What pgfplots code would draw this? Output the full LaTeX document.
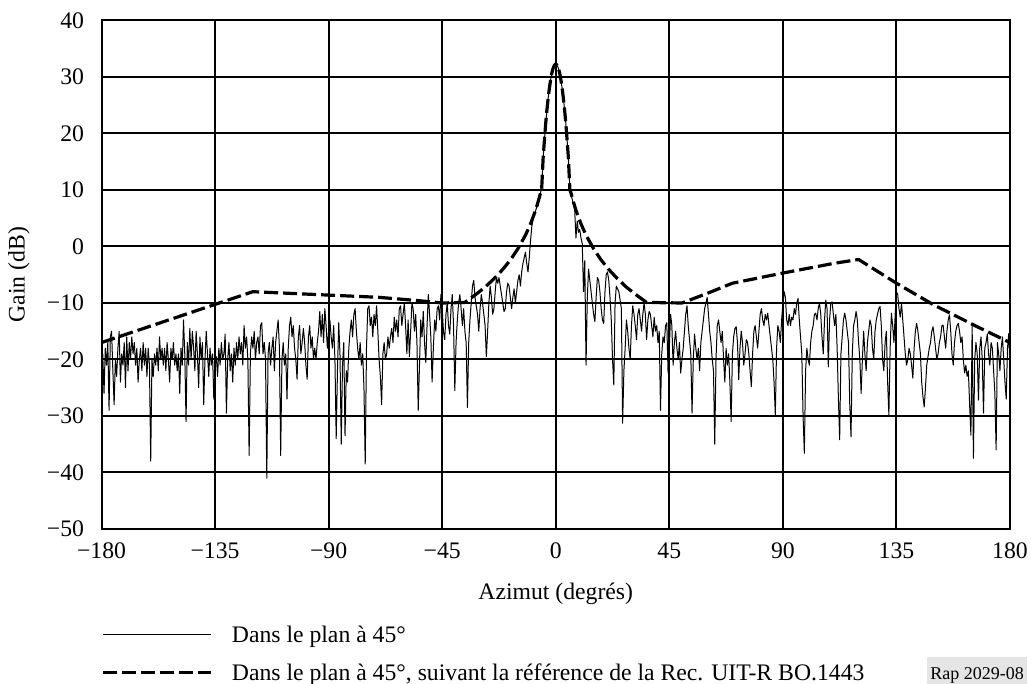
\documentclass[border=0pt]{standalone}
\usepackage{fontspec}
\setmainfont{Liberation Serif}
\usepackage{pgfplots}
\pgfplotsset{compat=1.18}
\begin{document}
\begin{tikzpicture}[x=1bp,y=1bp,font=\fontsize{23.7bp}{28bp}\selectfont]
\path[use as bounding box] (0,0) rectangle (1031,684);
\begin{axis}[
 at={(101.5bp,155bp)}, anchor=south west,
 scale only axis, width=908.5bp, height=508.5bp,
 xmin=-180,xmax=180,ymin=-50,ymax=40,
 xtick={-180,-135,-90,-45,0,45,90,135,180},
 ytick={-50,-40,-30,-20,-10,0,10,20,30,40},
 xticklabels={−180,−135,−90,−45,0,45,90,135,180},
 yticklabels={−50,−40,−30,−20,−10,0,10,20,30,40},
 grid=major, major grid style={black, line width=2bp},
 axis line style={black, line width=2bp},
 major tick length=0pt, tick style={draw=none},
 xticklabel style={yshift=-10bp},
 yticklabel style={xshift=-14bp},
 xlabel={Azimut (degrés)}, ylabel={Gain (dB)},
 xlabel style={at={(axis description cs:0.5,-0.127)}, anchor=center},
 ylabel style={at={(axis description cs:-0.091,0.5)}, anchor=center},
 legend style={at={(axis description cs:0,-0.186)}, anchor=north west, draw=none, fill=none, row sep=16bp, inner sep=0pt},
 legend cell align=left,
 legend image code/.code={\draw[#1] (0bp,0bp) -- (108bp,0bp); \path (125bp,0bp);},
]
\addplot[black, line width=1bp, line join=round] coordinates {
(-180,-24)(-179.5,-19)(-179,-26)(-178.5,-18)(-178,-21)(-177.5,-17)(-177,-29)(-176.5,-16)(-176,-15)(-175.5,-22)
(-175,-28)(-174.5,-20)(-174,-23)(-173.5,-18)(-173,-15)(-172.5,-24)(-172,-19)(-171.5,-21)(-171,-17)(-170.5,-25)
(-170,-16)(-169.5,-22)(-169,-17)(-168.5,-20)(-168,-16)(-167.5,-19)(-167,-17)(-166.5,-21)(-166,-18)(-165.5,-24)
(-165,-20)(-164.5,-18)(-164,-22)(-163.5,-17)(-163,-21)(-162.5,-18)(-162,-23)(-161.5,-18)(-161,-21)(-160.5,-38)
(-160,-20)(-159.5,-23)(-159,-19)(-158.5,-21)(-158,-18)(-157.5,-22)(-157,-16)(-156.5,-20)(-156,-18)(-155.5,-21)
(-155,-18)(-154.5,-22)(-154,-17)(-153.5,-20)(-153,-24)(-152.5,-18)(-152,-20)(-151.5,-17)(-151,-21)(-150.5,-19)
(-150,-22)(-149.5,-19)(-149,-26)(-148.5,-18)(-148,-21)(-147.5,-13)(-147,-19)(-146.5,-31)(-146,-17)(-145.5,-21)
(-145,-14.5)(-144.5,-20)(-144,-15)(-143.5,-18)(-143,-22)(-142.5,-15)(-142,-19)(-141.5,-25)(-141,-16)(-140.5,-20)
(-140,-17)(-139.5,-28)(-139,-20)(-138.5,-15)(-138,-19)(-137.5,-23)(-137,-18)(-136.5,-21)(-136,-19)(-135.5,-27)
(-135,-21)(-134.5,-19.5)(-134,-23)(-133.5,-18)(-133,-21)(-132.5,-17)(-132,-20)(-131.5,-19)(-131,-15.5)(-130.5,-29.5)
(-130,-20)(-129.5,-17)(-129,-22)(-128.5,-19)(-128,-24)(-127.5,-18)(-127,-21)(-126.5,-17)(-126,-20)(-125.5,-16)
(-125,-19)(-124.5,-17)(-124,-21)(-123.5,-14)(-123,-18)(-122.5,-16)(-122,-20)(-121.5,-37)(-121,-19)(-120.5,-16)
(-120,-18)(-119.5,-15)(-119,-20)(-118.5,-17)(-118,-16)(-117.5,-19)(-117,-14)(-116.5,-13.5)(-116,-19)(-115.5,-17)
(-115,-20)(-114.5,-41)(-114,-19)(-113.5,-17)(-113,-21)(-112.5,-18)(-112,-16)(-111.5,-22)(-111,-17)(-110.5,-15)
(-110,-13)(-109.5,-18)(-109,-37)(-108.5,-20)(-108,-17)(-107.5,-21)(-107,-19)(-106.5,-27)(-106,-18)(-105.5,-14)
(-105,-12.5)(-104.5,-16)(-104,-14)(-103.5,-18)(-103,-20)(-102.5,-23.5)(-102,-16)(-101.5,-14)(-101,-19)(-100.5,-17)
(-100,-14.5)(-99.5,-17)(-99,-21)(-98.5,-23.5)(-98,-16)(-97.5,-14)(-97,-18)(-96.5,-16)(-96,-20)(-95.5,-18)
(-95,-20)(-94.5,-17)(-94,-15)(-93.5,-11.5)(-93,-16)(-92.5,-12)(-92,-17)(-91.5,-11)(-91,-14)(-90.5,-18)
(-90,-15)(-89.5,-13)(-89,-16)(-88.5,-18)(-88,-14)(-87.5,-20)(-87,-34)(-86.5,-22)(-86,-13.5)(-85.5,-19)
(-85,-35)(-84.5,-21)(-84,-17)(-83.5,-33.5)(-83,-22)(-82.5,-24)(-82,-18)(-81.5,-15)(-81,-13)(-80.5,-16)
(-80,-12)(-79.5,-11)(-79,-15)(-78.5,-18)(-78,-20)(-77.5,-17)(-77,-21)(-76.5,-19)(-76,-25)(-75.5,-38.5)
(-75,-18)(-74.5,-11)(-74,-10.5)(-73.5,-14)(-73,-12.5)(-72.5,-16)(-72,-12)(-71.5,-14)(-71,-10.5)(-70.5,-15)
(-70,-20)(-69.5,-23)(-69,-28)(-68.5,-19)(-68,-17)(-67.5,-20)(-67,-19)(-66.5,-16)(-66,-18)(-65.5,-16)
(-65,-14.5)(-64.5,-17)(-64,-12.5)(-63.5,-15)(-63,-13)(-62.5,-16)(-62,-11)(-61.5,-10.5)(-61,-14)(-60.5,-12)
(-60,-10)(-59.5,-14)(-59,-19)(-58.5,-13)(-58,-19.5)(-57.5,-15)(-57,-10)(-56.5,-11)(-56,-15)(-55.5,-12)
(-55,-17)(-54.5,-29)(-54,-21)(-53.5,-13)(-53,-16)(-52.5,-11.5)(-52,-17)(-51.5,-20.5)(-51,-14)(-50.5,-8.5)
(-50,-12)(-49.5,-16)(-49,-24)(-48.5,-18)(-48,-13)(-47.5,-15)(-47,-11)(-46.5,-10.5)(-46,-13)(-45.5,-8.5)
(-45,-11)(-44.5,-15)(-44,-16.5)(-43.5,-12)(-43,-10)(-42.5,-14)(-42,-15.5)(-41.5,-11)(-41,-8.5)(-40.5,-14)
(-40,-25.5)(-39.5,-17)(-39,-13)(-38.5,-10)(-38,-8.5)(-37.5,-11)(-37,-14)(-36.5,-11)(-36,-15)(-35.5,-17)
(-35,-28.5)(-34.5,-17)(-34,-13)(-33.5,-10)(-33,-7)(-32.5,-6)(-32,-9)(-31.5,-10.5)(-31,-12)(-30.5,-15)
(-30,-11)(-29.5,-8.5)(-29,-10)(-28.5,-12)(-28,-14)(-27.5,-19.5)(-27,-15)(-26.5,-10)(-26,-7)(-25.5,-9)
(-25,-12)(-24.5,-11)(-24,-8)(-23.5,-5.5)(-23,-6.5)(-22.5,-5.5)(-22,-7)(-21.5,-8.5)(-21,-10)(-20.5,-11.5)
(-20,-11)(-19.5,-8)(-19,-6.5)(-18.5,-7)(-18,-9)(-17.5,-11)(-17,-9)(-16.5,-7.5)(-16,-10)(-15.5,-8)
(-15,-6)(-14.5,-5)(-14,-7)(-13.5,-4.5)(-13,-3)(-12.5,-2)(-12,-1)(-11.5,-3)(-11,-4.5)(-10.5,-2)
(-10,1)(-9.5,3.5)(-9,4.8)(-8.5,5.6)(-8,6.3)(-7.5,7)(-7,7.8)(-6.5,8.6)(-6,9.5)(-5.5,11)
(-5,15.7)(-4.5,18.8)(-4,21.7)(-3.5,24.2)(-3,26.3)(-2.5,28.1)(-2,29.6)(-1.5,30.8)(-1,31.6)(-0.5,32.1)
(0,32.3)(0.5,32.1)(1,31.6)(1.5,30.8)(2,29.6)(2.5,28.1)(3,26.3)(3.5,24.2)(4,21.7)(4.5,18.8)
(5,15.7)(5.5,11)(6,9.3)(6.5,8.4)(7,7.5)(7.5,6.5)(8,1.5)(8.5,4.5)(9,2.5)(9.5,3)
(10,1.5)(10.5,0.5)(11,-8)(11.5,-2.5)(12,-21)(12.5,-9)(13,-4)(13.5,-6)(14,-8)(14.5,-10)
(15,-12)(15.5,-13.3)(16,-9)(16.5,-5.5)(17,-6)(17.5,-8)(18,-11)(18.5,-13)(19,-13.6)(19.5,-8)
(20,-5)(20.5,-4.5)(21,-6)(21.5,-9)(22,-13)(22.5,-20)(23,-24.5)(23.5,-10)(24,-7)(24.5,-7.5)
(25,-8)(25.5,-9.5)(26,-11)(26.5,-31.3)(27,-22)(27.5,-18)(28,-13)(28.5,-15)(29,-18)(29.5,-20)
(30,-14)(30.5,-10.5)(31,-12)(31.5,-14)(32,-16.5)(32.5,-12)(33,-11)(33.5,-13)(34,-15)(34.5,-12)
(35,-10)(35.5,-12)(36,-16.5)(36.5,-13)(37,-11.5)(37.5,-12)(38,-14)(38.5,-16)(39,-12.5)(39.5,-15)
(40,-14)(40.5,-17)(41,-15)(41.5,-29)(42,-19)(42.5,-16)(43,-17)(43.5,-14)(44,-13.5)(44.5,-22.4)
(45,-18)(45.5,-12)(46,-14)(46.5,-21)(47,-17)(47.5,-15)(48,-18)(48.5,-20)(49,-17)(49.5,-22.4)
(50,-20)(50.5,-18)(51,-15)(51.5,-12)(52,-10.5)(52.5,-14)(53,-16.5)(53.5,-19)(54,-29.5)(54.5,-20)
(55,-15.5)(55.5,-18)(56,-20)(56.5,-18)(57,-22)(57.5,-17)(58,-15)(58.5,-13)(59,-11)(59.5,-10)
(60,-9)(60.5,-12)(61,-15)(61.5,-17)(62,-20)(62.5,-22)(63,-35)(63.5,-20)(64,-14)(64.5,-13)
(65,-15)(65.5,-17)(66,-15)(66.5,-20)(67,-24)(67.5,-18)(68,-21)(68.5,-19)(69,-24)(69.5,-31)
(70,-19)(70.5,-16)(71,-14.5)(71.5,-14.2)(72,-17)(72.5,-23.6)(73,-18)(73.5,-15)(74,-17)(74.5,-21)
(75,-19)(75.5,-16.5)(76,-17)(76.5,-19)(77,-22)(77.5,-24.8)(78,-19)(78.5,-15)(79,-14)(79.5,-16)
(80,-18)(80.5,-15)(81,-12)(81.5,-11)(82,-13)(82.5,-14)(83,-12)(83.5,-13)(84,-11.8)(84.5,-14)
(85,-16)(85.5,-18)(86,-20)(86.5,-24)(87,-29.8)(87.5,-18)(88,-14)(88.5,-15)(89,-17)(89.5,-13)
(90,-10)(90.5,-8)(91,-9)(91.5,-13)(92,-14)(92.5,-12)(93,-14)(93.5,-12.5)(94,-13)(94.5,-11)
(95,-12)(95.5,-10)(96,-9.2)(96.5,-13)(97,-16)(97.5,-19)(98,-30)(98.5,-36.6)(99,-22)(99.5,-18)
(100,-20)(100.5,-21)(101,-17)(101.5,-15)(102,-14)(102.5,-12)(103,-11.8)(103.5,-13)(104,-11)(104.5,-10)
(105,-12)(105.5,-16)(106,-19)(106.5,-13)(107,-9.5)(107.5,-11)(108,-21.3)(108.5,-13)(109,-10)(109.5,-9.8)
(110,-12)(110.5,-14)(111,-12)(111.5,-18)(112,-27)(112.5,-34.2)(113,-19)(113.5,-16)(114,-13)(114.5,-11.8)
(115,-13)(115.5,-15)(116,-17)(116.5,-28)(117,-33.7)(117.5,-19)(118,-14)(118.5,-13)(119,-11.5)(119.5,-13)
(120,-17)(120.5,-20)(121,-26)(121.5,-20)(122,-15)(122.5,-19)(123,-22)(123.5,-17)(124,-15)(124.5,-13)
(125,-14)(125.5,-18)(126,-20)(126.5,-15)(127,-13)(127.5,-12)(128,-11)(128.5,-10.6)(129,-14)(129.5,-20)
(130,-22)(130.5,-17)(131,-15)(131.5,-24)(132,-29.8)(132.5,-18)(133,-11.8)(133.5,-14)(134,-17)(134.5,-12)
(135,-8)(135.5,-8.5)(136,-11)(136.5,-12.5)(137,-10)(137.5,-13)(138,-16)(138.5,-19)(139,-21)(139.5,-20)
(140,-18)(140.5,-19)(141,-21)(141.5,-23.3)(142,-18)(142.5,-15)(143,-13.6)(143.5,-15)(144,-17)(144.5,-19)
(145,-24)(145.5,-26.6)(146,-28.4)(146.5,-25)(147,-21)(147.5,-19.5)(148,-18)(148.5,-17)(149,-15)(149.5,-14.2)
(150,-16)(150.5,-18)(151,-20)(151.5,-19)(152,-17)(152.5,-16)(153,-14)(153.5,-13.9)(154,-16)(154.5,-18)
(155,-15)(155.5,-13)(156,-12.1)(156.5,-15)(157,-19)(157.5,-21)(158,-17)(158.5,-15)(159,-14)(159.5,-13.6)
(160,-15)(160.5,-17)(161,-16)(161.5,-20)(162,-22.4)(162.5,-21)(163,-23)(163.5,-22)(164,-28)(164.5,-33.4)
(165,-14)(165.5,-37.5)(166,-20)(166.5,-17)(167,-19)(167.5,-27.2)(168,-18)(168.5,-16)(169,-20)(169.5,-29.5)
(170,-18)(170.5,-17)(171,-15.5)(171.5,-19)(172,-21)(172.5,-17)(173,-18)(173.5,-22)(174,-26)(174.5,-36)
(175,-17)(175.5,-19)(176,-22)(176.5,-18)(177,-16)(177.5,-20)(178,-24)(178.5,-27)(179,-18)(179.5,-15.4)
(180,-22)
};
\addlegendentry{Dans le plan à 45°}
\addplot[black, line width=3.2bp, dash pattern=on 14bp off 5bp] coordinates {
(-180,-17)(-120,-8)(-90,-8.6)(-70,-9)(-54,-9.6)(-45,-10)(-36,-9.9)(-32,-8.6)(-28,-7.2)(-24,-5.5)(-21,-4.05)(-18,-2.4)(-15,-0.4)(-12,2.0)(-10,4)(-8,6.4)(-7,7.9)(-6,9.5)(-5.6,10)(-5,15.7)(-4.5,18.8)(-4,21.7)(-3.5,24.2)(-3,26.3)(-2.5,28.1)(-2,29.6)(-1.5,30.8)(-1,31.6)(-0.5,32.1)(0,32.3)
(0.5,32.1)(1,31.6)(1.5,30.8)(2,29.6)(2.5,28.1)(3,26.3)(3.5,24.2)(4,21.7)(4.5,18.8)(5,15.7)(5.6,10)(6,9.5)(7,7.9)(8,6.4)(10,4)(12,2)(15,-0.4)(18,-2.4)(21,-4.05)(24,-5.5)(28,-7.2)(32,-8.6)(36,-9.9)(50,-10)(60,-8.3)(70,-6.5)(90,-4.7)(110,-3)(120,-2.3)(135,-6.5)(150,-10.4)(155,-11.5)(167,-14.2)(180,-17)
};
\addlegendentry{Dans le plan à 45°, suivant la référence de la Rec. UIT-R BO.1443}
\end{axis}
\fill[black!10] (927,0) rectangle (1027,27);
\node[anchor=base, inner sep=0pt, font=\fontsize{18bp}{20bp}\selectfont] at (977,4.5) {Rap 2029-08};
\end{tikzpicture}
\end{document}
